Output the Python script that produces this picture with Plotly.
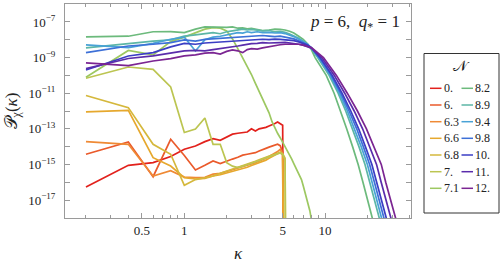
import plotly.graph_objects as go

# ---------------- data (log10 of P_chi(kappa)) ----------------
kappa_low = [0.2, 0.4, 0.6, 0.8, 1.0, 1.2, 1.4, 1.6, 1.8, 2.0, 2.2, 2.4, 2.6, 2.8,
             3.0, 3.2, 3.4, 3.6, 3.8, 4.0, 4.2, 4.4, 4.6, 4.8, 5.0, 5.2, 5.4]

logP_N0 = [-16.27, -15.05, -14.90, -14.56, -14.15, -13.97, -13.72, -13.55, -13.65, -13.49,
           -13.30, -13.25, -13.21, -13.18, -13.00, -13.12, -13.00, -12.98, -12.92, -12.84,
           -12.78, -12.70, -12.62, -12.69, -12.80, -40, -40]
logP_N6 = [-14.43, -13.74, -15.69, -13.59, -14.50, -15.31, -15.05, -14.81, -14.95, -14.80,
           -14.70, -14.60, -14.48, -14.43, -14.38, -14.34, -14.25, -14.15, -14.10, -14.03,
           -13.97, -13.90, -13.87, -13.95, -14.30, -40, -40]
logP_N63 = [-13.72, -13.87, -15.65, -15.35, -15.71, -15.74, -15.72, -15.55, -15.50, -15.40,
            -15.30, -15.22, -15.15, -15.05, -14.98, -14.90, -14.82, -14.72, -14.65, -14.55,
            -14.45, -14.38, -14.28, -14.15, -14.40, -40, -40]
logP_N66 = [-12.05, -11.96, -14.62, -15.09, -15.74, -15.82, -15.78, -15.65, -15.58, -15.48,
            -15.40, -15.32, -15.26, -15.16, -15.06, -14.99, -14.92, -14.84, -14.76, -14.66,
            -14.57, -14.50, -14.42, -14.32, -14.45, -40, -40]
logP_N68 = [-11.13, -11.81, -13.87, -14.43, -16.17, -15.85, -15.75, -15.65, -15.50, -15.38,
            -15.28, -15.18, -15.08, -14.98, -14.90, -14.82, -14.74, -14.66, -14.60, -14.54,
            -14.48, -14.43, -14.38, -14.33, -14.40, -14.65, -40]
logP_N7 = [-10.16, -9.53, -9.66, -10.65, -13.21, -13.01, -12.39, -13.87, -13.87, -14.90,
           -15.10, -15.18, -15.10, -15.02, -14.94, -14.86, -14.78, -14.70, -14.64, -14.57,
           -14.51, -14.46, -14.40, -14.36, -14.44, -14.75, -40]

kappa_N71 = [0.2, 0.4, 0.6, 0.8, 1.0, 1.2, 1.4, 1.6, 1.8, 2.0, 2.2, 2.4, 2.6, 2.8, 3.0,
             3.2, 3.4, 3.6, 3.8, 4.0, 4.2, 4.4, 4.6, 4.8, 5.0, 5.2, 5.4, 5.6, 5.8, 6.0,
             6.2, 6.4, 6.6, 6.8, 7.0, 7.2, 7.4, 7.6, 7.8, 8.0]
logP_N71 = [-10.10, -8.60, -8.85, -8.10, -7.85, -7.60, -7.40, -7.32, -7.35, -7.50,
            -7.95, -8.50, -9.00, -9.50, -9.95, -10.45, -10.90, -11.30, -11.75, -12.10,
            -12.60, -12.95, -13.25, -13.50, -13.75, -14.00, -14.20, -14.40, -14.70, -14.95,
            -15.20, -15.40, -15.60, -15.85, -16.20, -16.55, -16.80, -17.20, -17.60, -18.10]

kappa_plateau = [0.2, 0.4, 0.6, 0.8, 1.0, 1.2, 1.4, 1.6, 1.8, 2.0, 2.2, 2.4, 2.6, 2.8,
                 3.0, 3.3, 3.6, 4.0, 4.4, 4.8, 5.2, 5.6, 6.0, 6.5, 7.0, 7.5, 8.0]
logP_tail = [-9, -10, -11, -12, -13, -14, -15, -16, -17, -18.5]

logP_N82 = [-7.84, -7.80, -7.55, -7.54, -7.60, -7.40, -7.28, -7.30, -7.32, -7.30, -7.28, -7.35,
            -7.33, -7.38, -7.36, -7.42, -7.48, -7.45, -7.40, -7.42, -7.45, -7.52, -7.62, -7.80,
            -7.98, -8.22, -8.55]
kappa_tail_N82 = [8.5, 10.2, 11.6, 12.9, 14.25, 15.7, 17.2, 18.6, 20.1, 22.5]

logP_N89 = [-8.45, -8.20, -8.07, -8.00, -7.79, -7.72, -7.65, -7.60, -7.66, -7.55, -7.50, -7.45,
            -7.40, -7.45, -7.42, -7.46, -7.50, -7.48, -7.55, -7.52, -7.58, -7.68, -7.78, -7.92,
            -8.08, -8.25, -8.50]
kappa_tail_N89 = [8.87, 10.69, 12.39, 14.03, 15.70, 17.42, 19.23, 20.80, 22.49, 25.23]

logP_N94 = [-8.29, -8.44, -8.20, -7.97, -7.85, -8.63, -8.00, -7.85, -7.80, -7.72, -7.65, -7.60,
            -7.62, -7.55, -7.60, -7.55, -7.60, -7.58, -7.62, -7.60, -7.65, -7.72, -7.82, -7.95,
            -8.10, -8.25, -8.45]
kappa_tail_N94 = [8.99, 10.89, 12.65, 14.42, 16.22, 18.07, 20.0, 21.58, 23.33, 26.18]

logP_N98 = [-8.72, -8.35, -8.25, -8.16, -8.01, -8.07, -7.98, -7.95, -7.92, -7.90, -7.88, -7.85,
            -7.82, -7.80, -7.78, -7.80, -7.76, -7.79, -7.82, -7.80, -7.85, -7.90, -7.95, -8.05,
            -8.15, -8.28, -8.45]
kappa_tail_N98 = [9.12, 11.07, 12.94, 14.83, 16.79, 18.71, 20.75, 22.44, 24.21, 27.23]

logP_N10 = [-9.70, -8.91, -8.72, -8.40, -8.20, -8.25, -8.18, -8.15, -8.12, -8.10, -8.07, -8.05,
            -8.02, -8.00, -7.98, -8.00, -7.97, -7.99, -7.96, -7.98, -8.00, -8.02, -8.05, -8.12,
            -8.20, -8.30, -8.45]
kappa_tail_N10 = [9.23, 11.25, 13.21, 15.24, 17.34, 19.36, 21.53, 23.28, 25.12, 28.31]

logP_N11 = [-9.62, -9.05, -8.90, -8.75, -8.62, -8.60, -8.62, -8.55, -8.50, -8.45, -8.38, -8.35,
            -8.30, -8.25, -8.22, -8.20, -8.16, -8.18, -8.15, -8.16, -8.15, -8.17, -8.20, -8.25,
            -8.30, -8.38, -8.47]
kappa_tail_N11 = [9.48, 11.64, 13.80, 16.11, 18.49, 20.80, 23.23, 25.06, 27.10, 30.55]

logP_N12 = [-9.30, -9.45, -9.19, -9.06, -8.90, -8.85, -8.75, -8.72, -8.80, -8.65, -8.57, -8.62,
            -8.72, -8.55, -8.50, -8.52, -8.45, -8.38, -8.32, -8.28, -8.25, -8.25, -8.24, -8.25,
            -8.30, -8.37, -8.43]
kappa_tail_N12 = [9.75, 12.05, 14.4, 17.0, 19.7, 22.3, 25.1, 27.0, 29.2, 33.0]

legend_labels = ["0.", "6.", "6.3", "6.6", "6.8", "7.", "7.1",
                 "8.2", "8.9", "9.4", "9.8", "10.", "11.", "12."]
colors = ["#e2211c", "#ea5a2b", "#ef8a35", "#e6a82d", "#d5b83c", "#bcc551", "#9dc861",
          "#6cba7c", "#5cb6a6", "#49a2d6", "#3d70d7", "#3b3ec4", "#5a2cab", "#7b2592"]

series = [
    (kappa_low, logP_N0), (kappa_low, logP_N6), (kappa_low, logP_N63), (kappa_low, logP_N66),
    (kappa_low, logP_N68), (kappa_low, logP_N7), (kappa_N71, logP_N71),
    (kappa_plateau + kappa_tail_N82, logP_N82 + logP_tail),
    (kappa_plateau + kappa_tail_N89, logP_N89 + logP_tail),
    (kappa_plateau + kappa_tail_N94, logP_N94 + logP_tail),
    (kappa_plateau + kappa_tail_N98, logP_N98 + logP_tail),
    (kappa_plateau + kappa_tail_N10, logP_N10 + logP_tail),
    (kappa_plateau + kappa_tail_N11, logP_N11 + logP_tail),
    (kappa_plateau + kappa_tail_N12, logP_N12 + logP_tail),
]

# ---------------- figure ----------------
W, H = 500, 267
L_M, R_M, T_M, B_M = 65, 89, 4, 49
PW, PH = W - L_M - R_M, H - T_M - B_M


def px_x(px):
    return (px - L_M) / PW


def px_y(py):
    return (H - B_M - py) / PH


fig = go.Figure()
for (kx, lp), col, lab in zip(series, colors, legend_labels):
    fig.add_trace(go.Scatter(
        x=kx, y=[10 ** v for v in lp], mode="lines", name=lab,
        line=dict(color=col, width=1.7), showlegend=False, hoverinfo="skip"))

SERIF = "Liberation Serif"
FRAME = "#9a9a9a"
TXT = "#222222"

fig.update_layout(
    width=W, height=H, autosize=False,
    margin=dict(l=L_M, r=R_M, t=T_M, b=B_M, pad=0),
    paper_bgcolor="white", plot_bgcolor="white",
    font=dict(family=SERIF, size=13, color=TXT),
)

fig.update_xaxes(
    type="log", range=[-0.848, 1.611],
    tickvals=[0.5, 1, 5, 10], ticktext=["0.5", "1", "5", "10"],
    ticks="inside", ticklen=5, tickwidth=1, tickcolor=FRAME,
    showline=True, linecolor=FRAME, linewidth=1, mirror="allticks",
    showgrid=False, zeroline=False,
    tickfont=dict(family=SERIF, size=13, color=TXT),
    minor=dict(tickvals=[0.2, 0.3, 0.4, 0.6, 0.7, 0.8, 0.9, 2, 3, 4, 6, 7, 8, 9, 20, 30, 40],
               ticks="inside", ticklen=3, tickcolor=FRAME, showgrid=False),
    title=dict(text="<i>κ</i>", font=dict(family=SERIF, size=17, color=TXT), standoff=10),
)

ymaj = [1e-7, 1e-9, 1e-11, 1e-13, 1e-15, 1e-17]
fig.update_yaxes(
    type="log", range=[-18.01, -5.99],
    tickvals=ymaj,
    ticktext=["10<sup>−7</sup>", "10<sup>−9</sup>", "10<sup>−11</sup>", "10<sup>−13</sup>",
              "10<sup>−15</sup>", "10<sup>−17</sup>"],
    ticks="inside", ticklen=5, tickwidth=1, tickcolor=FRAME,
    showline=True, linecolor=FRAME, linewidth=1, mirror="allticks",
    showgrid=False, zeroline=False, ticklabelstandoff=6,
    tickfont=dict(family=SERIF, size=13, color=TXT),
    minor=dict(tickvals=[1e-6, 1e-8, 1e-10, 1e-12, 1e-14, 1e-16, 1e-18],
               ticks="inside", ticklen=5, tickcolor=FRAME, showgrid=False),
    title=dict(text="𝒫<sub>χ</sub>(<i>κ</i>)", font=dict(family=SERIF, size=17, color=TXT),
               standoff=6),
)

annotations = [
    dict(x=px_x(402), y=px_y(23), xref="paper", yref="paper", xanchor="right", yanchor="middle",
         text="<i>p</i> = 6,  <i>q</i><sub>*</sub> = 1", showarrow=False,
         font=dict(family=SERIF, size=17, color=TXT)),
    dict(x=px_x(461), y=px_y(66), xref="paper", yref="paper", xanchor="center", yanchor="middle",
         text="𝒩", showarrow=False, font=dict(family=SERIF, size=15, color=TXT)),
]
shapes = [
    dict(type="rect", xref="paper", yref="paper", x0=px_x(424), x1=px_x(499),
         y0=px_y(213), y1=px_y(53.5), line=dict(color="#333333", width=1), fillcolor="white"),
]

row_y = [88.3, 105, 121.7, 138.3, 155, 171.7, 188.3]
for i, (lab, col) in enumerate(zip(legend_labels, colors)):
    c, r = divmod(i, 7)
    lx0 = 430 if c == 0 else 461.5
    y = row_y[r]
    shapes.append(dict(type="line", xref="paper", yref="paper", x0=px_x(lx0), x1=px_x(lx0 + 11.5),
                       y0=px_y(y), y1=px_y(y), line=dict(color=col, width=1.5)))
    annotations.append(dict(x=px_x(lx0 + 11.8), y=px_y(y), xref="paper", yref="paper",
                            xanchor="left", yanchor="middle", text=lab, showarrow=False,
                            font=dict(family=SERIF, size=12, color=TXT)))

fig.update_layout(annotations=annotations, shapes=shapes)

fig.write_html("out.html", config={"displayModeBar": False},
               post_script="document.body.style.margin='0';document.body.style.padding='0';")
